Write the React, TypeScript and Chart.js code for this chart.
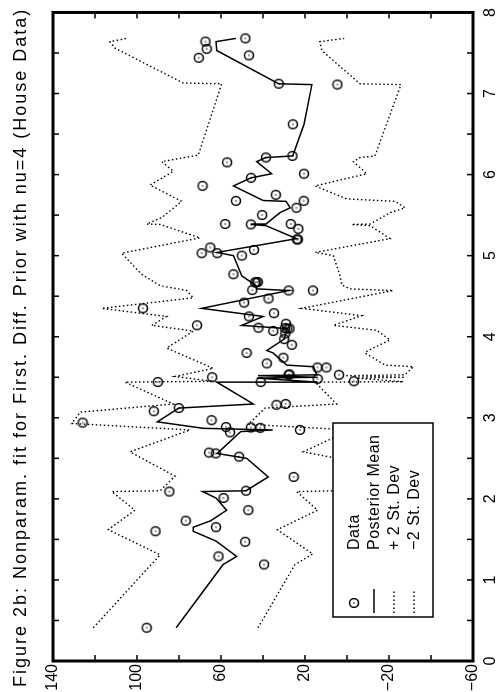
import React, { useEffect, useRef } from 'react';
import { Chart, registerables } from 'chart.js';

Chart.register(...registerables);

// ---- content ----
const TITLE = 'Figure 2b: Nonparam. fit for First. Diff. Prior with nu=4 (House Data)';
const seriesLabels = ['Data', 'Posterior Mean', '+ 2 St. Dev', '\u22122 St. Dev'];

const xLabelValues = [0, 1, 2, 3, 4, 5, 6, 7, 8];
const xTickLabels = ['0', '1', '2', '3', '4', '5', '6', '7', '8'];
const yLabelValues = [-60, -20, 20, 60, 100, 140];
const yTickLabels = ['\u221260', '\u221220', '20', '60', '100', '140'];

// observed data
const dataX = [0.41, 1.19, 1.29, 1.47, 1.60, 1.65, 1.73, 1.86, 2.01, 2.09, 2.10, 2.27, 2.52, 2.56, 2.57,
  2.82, 2.85, 2.875, 2.88, 2.885, 2.94, 2.97, 3.08, 3.12, 3.16, 3.17, 3.44, 3.44, 3.45, 3.48,
  3.50, 3.53, 3.53, 3.535, 3.62, 3.62, 3.67, 3.74, 3.80, 3.90, 3.97, 4.04, 4.07, 4.10, 4.10,
  4.105, 4.11, 4.14, 4.16, 4.25, 4.29, 4.35, 4.42, 4.47, 4.57, 4.57, 4.575, 4.67, 4.67, 4.675,
  4.77, 5.00, 5.03, 5.03, 5.07, 5.10, 5.20, 5.20, 5.33, 5.385, 5.39, 5.39, 5.50, 5.59, 5.675,
  5.675, 5.75, 5.86, 5.96, 6.01, 6.15, 6.21, 6.23, 6.62, 7.11, 7.12, 7.44, 7.47, 7.55, 7.64, 7.68];
const dataY = [95.4, 39.5, 61.2, 48.5, 91.2, 62.4, 76.8, 47.0, 58.8, 84.6, 48.1, 25.4, 51.4, 62.5, 65.7,
  55.7, 22.4, 41.3, 45.8, 57.6, 125.9, 64.5, 92.0, 80.1, 33.6, 29.2, 90.1, 41.1, -3.3, 14.0,
  64.2, 3.8, 27.8, 27.4, 14.1, 9.8, 38.2, 30.3, 47.8, 26.3, 29.9, 29.4, 35.1, 28.4, 27.4,
  29.6, 42.2, 71.4, 29.1, 46.7, 34.8, 97.2, 49.0, 37.4, 27.8, 16.2, 45.1, 43.1, 43.8, 42.5,
  54.1, 50.1, 61.8, 69.2, 44.3, 65.1, 23.9, 23.4, 23.2, 45.8, 26.8, 58.0, 40.4, 24.1, 20.6,
  52.9, 33.9, 68.8, 45.7, 20.5, 57.1, 38.6, 26.0, 25.8, 4.6, 32.5, 70.6, 46.7, 66.8, 67.4, 48.4];

// posterior mean
const meanX = [0.41, 1.19, 1.29, 1.48, 1.60, 1.65, 1.73, 1.86, 2.01, 2.09, 2.10, 2.27, 2.50, 2.56, 2.83,
  2.85, 2.87, 2.95, 3.12, 3.17, 3.44, 3.44, 3.49, 3.50, 3.52, 3.53, 3.63, 3.65, 3.80, 3.83,
  3.97, 4.10, 4.14, 4.25, 4.35, 4.57, 4.59, 4.64, 4.75, 5.00, 5.04, 5.21, 5.37, 5.385, 5.39,
  5.53, 5.59, 5.67, 5.68, 5.86, 5.96, 6.01, 6.16, 6.21, 6.23, 6.62, 7.11, 7.12, 7.53, 7.64, 7.68];
const meanY = [81.4, 59.0, 52.5, 62.4, 73.2, 73.2, 64.9, 57.3, 62.4, 68.7, 48.1, 37.5, 47.8, 61.8, 50.6,
  35.4, 68.4, 90.3, 80.1, 44.6, 62.0, 14.1, 43.0, 14.1, 42.4, 14.4, 16.0, 28.7, 35.2, 38.2,
  29.9, 28.4, 50.1, 39.9, 69.2, 27.8, 43.0, 43.8, 50.1, 54.1, 61.8, 24.0, 38.6, 45.7, 38.6,
  31.9, 27.1, 29.0, 39.9, 54.1, 45.7, 35.9, 43.0, 38.6, 25.9, 20.5, 16.7, 32.5, 62.0, 62.4, 52.9];

// + 2 st. dev
const upperX = [0.41, 1.31, 1.62, 1.86, 2.09, 2.10, 2.28, 2.58, 2.85, 2.93, 3.07, 3.17, 3.44, 3.45, 3.51,
  3.61, 3.86, 4.07, 4.14, 4.25, 4.35, 4.48, 4.57, 4.63, 4.77, 5.03, 5.22, 5.385, 5.39, 5.47,
  5.67, 5.87, 6.04, 6.16, 6.24, 7.12, 7.13, 7.56, 7.64, 7.68];
const upperY = [120.8, 89.0, 113.7, 101.0, 112.0, 89.0, 81.9, 103.3, 74.8, 131.0, 127.1, 82.7, 105.7, 63.8, 81.9,
  63.7, 85.9, 73.2, 93.0, 85.9, 116.8, 73.2, 76.3, 89.0, 97.8, 107.3, 70.0, 89.0, 95.4, 88.2,
  78.7, 93.8, 82.7, 88.2, 70.8, 59.7, 78.0, 110.5, 112.9, 104.9];

// - 2 st. dev
const lowerX = [0.41, 1.19, 1.32, 1.62, 1.86, 2.09, 2.10, 2.28, 2.51, 2.58, 2.85, 2.92, 3.12, 3.17, 3.44,
  3.445, 3.49, 3.50, 3.52, 3.53, 3.63, 3.65, 3.80, 3.83, 3.96, 4.08, 4.14, 4.26, 4.35, 4.57,
  4.59, 4.64, 4.75, 5.00, 5.04, 5.21, 5.37, 5.385, 5.39, 5.53, 5.59, 5.67, 5.70, 5.86, 6.01,
  6.16, 6.21, 6.23, 7.11, 7.12, 7.53, 7.64, 7.68];
const lowerY = [42.4, 24.8, 16.3, 33.2, 14.0, 24.0, 5.7, -6.2, 6.7, 20.8, -1.4, 47.0, 39.0, 4.9, 15.2,
  -26.8, -4.6, -27.6, 1.0, -27.6, -31.6, -18.1, -8.6, -10.0, -20.5, -14.1, 6.5, -7.0, 21.6, -22.0,
  -1.4, 2.5, 3.3, 6.5, 15.2, -20.5, -11.0, -2.2, -11.0, -20.5, -27.6, -22.9, 0.1, 15.2, -9.4,
  -3.0, -6.2, -13.3, -25.7, -6.2, 12.0, 12.9, 1.3];

const W = 692;
const H = 497;
const FONT = "'Liberation Sans', Arial, Helvetica, sans-serif";

const zip = (xs: number[], ys: number[]) => xs.map((x, i) => ({ x, y: ys[i] }));

function makeMarker(): HTMLCanvasElement {
  const c = document.createElement('canvas');
  c.width = 12;
  c.height = 12;
  const g = c.getContext('2d')!;
  g.strokeStyle = '#000';
  g.lineWidth = 1.5;
  g.beginPath();
  g.arc(6, 6, 4.4, 0, Math.PI * 2);
  g.stroke();
  g.fillStyle = '#000';
  g.beginPath();
  g.arc(6, 6, 0.75, 0, Math.PI * 2);
  g.fill();
  return c;
}

export default function App() {
  const ref = useRef<HTMLCanvasElement>(null);

  useEffect(() => {
    if (!ref.current) return;
    const marker = makeMarker();

    const decorPlugin = {
      id: 'decor',
      afterDatasetsDraw(chart: any) {
        const { ctx, chartArea: a, scales } = chart;
        const xs = scales.x;
        const ys = scales.y;
        ctx.save();
        ctx.strokeStyle = '#000';
        ctx.lineCap = 'butt';
        // inward tick marks on all four sides
        ctx.lineWidth = 1.5;
        const tl = 6;
        ctx.beginPath();
        xs.ticks.forEach((t: any) => {
          const p = xs.getPixelForValue(t.value);
          ctx.moveTo(p, a.bottom);
          ctx.lineTo(p, a.bottom - tl);
          ctx.moveTo(p, a.top);
          ctx.lineTo(p, a.top + tl);
        });
        ys.ticks.forEach((t: any) => {
          const p = ys.getPixelForValue(t.value);
          ctx.moveTo(a.left, p);
          ctx.lineTo(a.left + tl, p);
          ctx.moveTo(a.right, p);
          ctx.lineTo(a.right - tl, p);
        });
        ctx.stroke();
        // frame
        ctx.lineWidth = 3;
        ctx.strokeRect(a.left, a.top, a.right - a.left, a.bottom - a.top);

        // legend box
        const lx = a.left + 44;
        const ly = a.top + 280;
        const lw = 194;
        const lh = 100;
        ctx.fillStyle = '#fff';
        ctx.fillRect(lx, ly, lw, lh);
        ctx.lineWidth = 1.5;
        ctx.strokeRect(lx, ly, lw, lh);
        ctx.font = `16px ${FONT}`;
        ctx.textBaseline = 'middle';
        ctx.textAlign = 'left';
        ctx.fillStyle = '#000';
        try { (ctx as any).letterSpacing = '0.5px'; } catch (e) {}
        chart.data.datasets.forEach((ds: any, i: number) => {
          const cy = ly + 21 + i * 20;
          if (i === 0) {
            ctx.drawImage(marker, lx + 14 - 6, cy - 6);
          } else {
            ctx.save();
            ctx.lineWidth = ds.borderWidth;
            ctx.setLineDash(ds.borderDash || []);
            ctx.beginPath();
            ctx.moveTo(lx + 4, cy);
            ctx.lineTo(lx + 28, cy);
            ctx.stroke();
            ctx.restore();
          }
          ctx.fillText(ds.label, lx + 67, cy + 1);
        });

        // title
        ctx.font = `18px ${FONT}`;
        try { (ctx as any).letterSpacing = '2px'; } catch (e) {}
        ctx.textBaseline = 'middle';
        ctx.fillText(TITLE, 5, 21);
        ctx.restore();
      },
    };

    const chart = new Chart(ref.current, {
      type: 'scatter',
      data: {
        datasets: [
          {
            label: seriesLabels[0],
            data: zip(dataX, dataY),
            showLine: false,
            pointStyle: marker as any,
            pointRadius: 5,
            borderColor: '#000',
            backgroundColor: 'transparent',
          },
          {
            label: seriesLabels[1],
            data: zip(meanX, meanY),
            showLine: true,
            pointRadius: 0,
            borderColor: '#000',
            borderWidth: 1.5,
            backgroundColor: 'transparent',
          },
          {
            label: seriesLabels[2],
            data: zip(upperX, upperY),
            showLine: true,
            pointRadius: 0,
            borderColor: '#000',
            borderWidth: 1.4,
            borderDash: [1.5, 2.5],
            backgroundColor: 'transparent',
          },
          {
            label: seriesLabels[3],
            data: zip(lowerX, lowerY),
            showLine: true,
            pointRadius: 0,
            borderColor: '#000',
            borderWidth: 1.4,
            borderDash: [1.5, 2.5],
            backgroundColor: 'transparent',
          },
        ],
      },
      options: {
        responsive: false,
        animation: false,
        devicePixelRatio: 1,
        layout: { padding: { top: 53, right: 6, left: 0, bottom: 0 } },
        plugins: {
          legend: { display: false },
          title: { display: false },
          tooltip: { enabled: false },
        },
        scales: {
          x: {
            type: 'linear',
            min: 0,
            max: 8,
            grid: { display: false, drawTicks: false },
            border: { display: false },
            ticks: {
              stepSize: 0.5,
              autoSkip: false,
              maxRotation: 0,
              padding: 8,
              color: '#000',
              font: { family: FONT, size: 16 },
              callback: (v: any) => {
                const i = xLabelValues.indexOf(Number(v));
                return i >= 0 ? xTickLabels[i] : '';
              },
            },
            afterFit: (s: any) => { s.height = 24; },
          },
          y: {
            type: 'linear',
            min: -60,
            max: 140,
            grid: { display: false, drawTicks: false },
            border: { display: false },
            ticks: {
              stepSize: 20,
              autoSkip: false,
              padding: 3,
              color: '#000',
              font: { family: FONT, size: 16 },
              callback: (v: any) => {
                const i = yLabelValues.indexOf(Number(v));
                return i >= 0 ? yTickLabels[i] : '';
              },
            },
            afterFit: (s: any) => { s.width = 31; },
          },
        },
      } as any,
      plugins: [decorPlugin],
    });
    return () => chart.destroy();
  }, []);

  return (
    <div style={{ position: 'fixed', left: 0, top: 0, width: H, height: W, overflow: 'hidden', background: '#fff' }}>
      <div
        style={{
          position: 'absolute',
          left: 0,
          top: 0,
          width: W,
          height: H,
          transformOrigin: '0 0',
          transform: `translate(0px, ${W}px) rotate(-90deg)`,
        }}
      >
        <canvas ref={ref} width={W} height={H} style={{ display: 'block', width: W, height: H }} />
      </div>
    </div>
  );
}
